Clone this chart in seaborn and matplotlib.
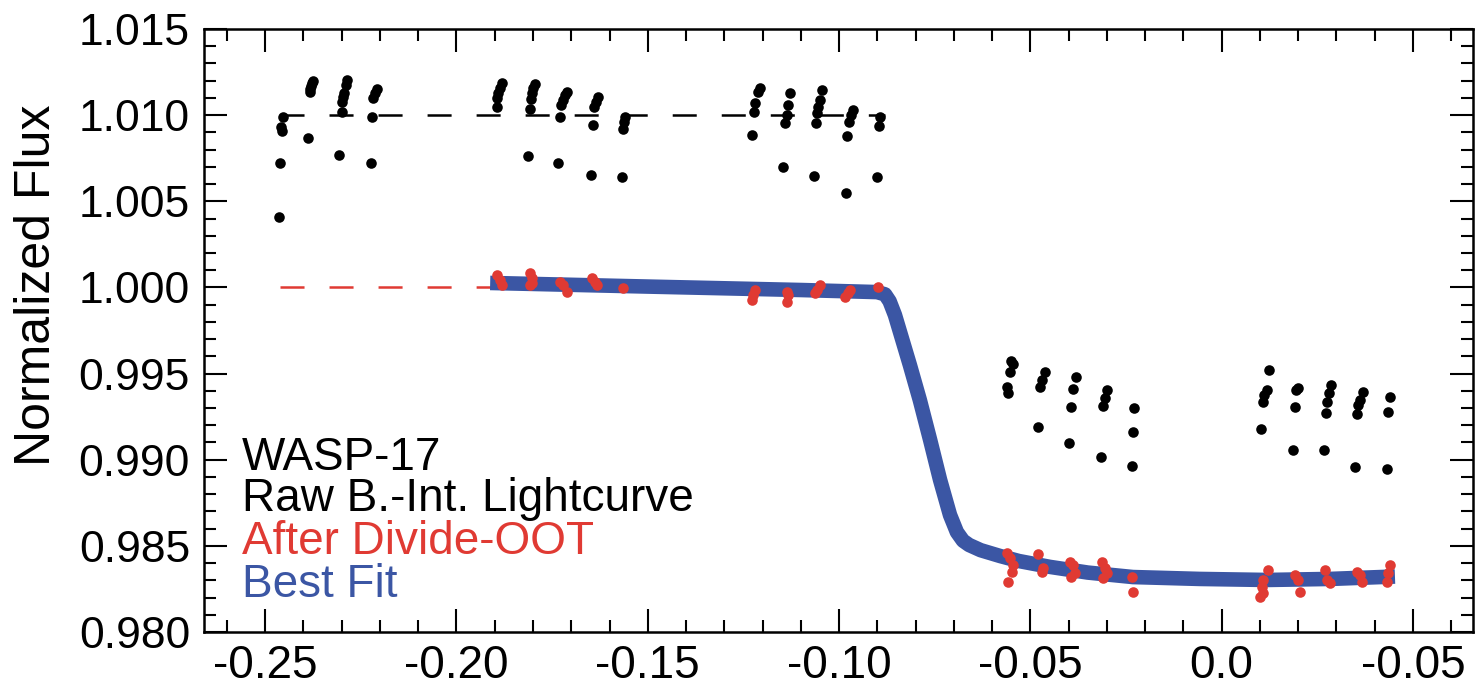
import numpy as np
import pandas as pd
import matplotlib
matplotlib.use("Agg")
import matplotlib.pyplot as plt
import seaborn as sns

# ---------------- data ----------------
raw_x = [
    -0.2453, -0.2458, -0.2456, -0.2461, -0.2463,
    -0.2375, -0.2377, -0.2380, -0.2382, -0.2382, -0.2388,
    -0.2286, -0.2288, -0.2294, -0.2296, -0.2299, -0.2299, -0.2307,
    -0.2207, -0.2213, -0.2218, -0.2220, -0.2223,
    -0.1881, -0.1886, -0.1891, -0.1894, -0.1894,
    -0.1794, -0.1800, -0.1802, -0.1805, -0.1808, -0.1813,
    -0.1711, -0.1716, -0.1721, -0.1727, -0.1729, -0.1734,
    -0.1630, -0.1635, -0.1640, -0.1643, -0.1648,
    -0.1559, -0.1562, -0.1564, -0.1567,
    -0.1207, -0.1212, -0.1220, -0.1222, -0.1227,
    -0.1128, -0.1133, -0.1136, -0.1141, -0.1146,
    -0.1045, -0.1050, -0.1055, -0.1058, -0.1061, -0.1065,
    -0.0963, -0.0969, -0.0974, -0.0979, -0.0982,
    -0.0893, -0.0896, -0.0901,
    -0.0551, -0.0545, -0.0553, -0.0561, -0.0558,
    -0.0462, -0.0470, -0.0475, -0.0480,
    -0.0381, -0.0389, -0.0394, -0.0399,
    -0.0300, -0.0305, -0.0310, -0.0315,
    -0.0229, -0.0232, -0.0234,
    0.0124, 0.0119, 0.0111, 0.0108, 0.0103,
    0.0199, 0.0194, 0.0192, 0.0186,
    0.0285, 0.0280, 0.0275, 0.0272, 0.0267,
    0.0369, 0.0361, 0.0356, 0.0353, 0.0348,
    0.0440, 0.0435, 0.0432,
]
raw_flux = [
    1.00989, 1.00931, 1.00908, 1.00722, 1.00409,
    1.01198, 1.01187, 1.01169, 1.01152, 1.01134, 1.00867,
    1.01204, 1.01175, 1.01129, 1.01105, 1.01076, 1.01018, 1.00769,
    1.01152, 1.01129, 1.01100, 1.00989, 1.00722,
    1.01187, 1.01158, 1.01129, 1.01100, 1.01047,
    1.01181, 1.01158, 1.01129, 1.01094, 1.01036, 1.00763,
    1.01134, 1.01117, 1.01088, 1.01059, 1.00989, 1.00722,
    1.01105, 1.01076, 1.01047, 1.00943, 1.00653,
    1.00989, 1.00960, 1.00920, 1.00641,
    1.01158, 1.01134, 1.01071, 1.01018, 1.00885,
    1.01129, 1.01059, 1.01001, 1.00954, 1.00699,
    1.01146, 1.01088, 1.01047, 1.01012, 1.00954, 1.00647,
    1.01030, 1.01001, 1.00960, 1.00879, 1.00548,
    1.00989, 1.00937, 1.00641,
    0.99573, 0.99556, 0.99509, 0.99422, 0.99387,
    0.99509, 0.99463, 0.99422, 0.99190,
    0.99480, 0.99411, 0.99306, 0.99097,
    0.99405, 0.99358, 0.99312, 0.99016,
    0.99300, 0.99161, 0.98964,
    0.99521, 0.99405, 0.99376, 0.99335, 0.99178,
    0.99416, 0.99405, 0.99306, 0.99057,
    0.99434, 0.99387, 0.99335, 0.99271, 0.99057,
    0.99393, 0.99347, 0.99318, 0.99265, 0.98958,
    0.99364, 0.99277, 0.98946,
]

oot_x = [
    -0.1894, -0.1886, -0.1881,
    -0.1808, -0.1802, -0.1802, -0.1808,
    -0.1729, -0.1721, -0.1711,
    -0.1646, -0.1638, -0.1632,
    -0.1564,
    -0.1220, -0.1225, -0.1227,
    -0.1136, -0.1133, -0.1136,
    -0.1050, -0.1058, -0.1063,
    -0.0971, -0.0977, -0.0984,
    -0.0898,
    -0.0561, -0.0553, -0.0545, -0.0548, -0.0558,
    -0.0480, -0.0467, -0.0470,
    -0.0396, -0.0389, -0.0383, -0.0394,
    -0.0313, -0.0305, -0.0300, -0.0310,
    -0.0234, -0.0232,
    0.0121, 0.0108, 0.0105, 0.0108, 0.0100,
    0.0192, 0.0199, 0.0205,
    0.0270, 0.0275, 0.0283,
    0.0353, 0.0361, 0.0366,
    0.0440, 0.0435, 0.0432,
]
oot_flux = [
    1.00072, 1.00043, 1.00014,
    1.00084, 1.00055, 1.00026, 1.00014,
    1.00032, 1.00014, 0.99974,
    1.00055, 1.00032, 1.00014,
    0.99997,
    0.99985, 0.99956, 0.99927,
    0.99974, 0.99956, 0.99916,
    1.00014, 0.99985, 0.99968,
    0.99985, 0.99968, 0.99944,
    1.00003,
    0.98459, 0.98430, 0.98389, 0.98348, 0.98290,
    0.98453, 0.98372, 0.98348,
    0.98406, 0.98389, 0.98343, 0.98319,
    0.98406, 0.98372, 0.98343, 0.98314,
    0.98319, 0.98232,
    0.98360, 0.98302, 0.98261, 0.98227, 0.98203,
    0.98331, 0.98302, 0.98232,
    0.98360, 0.98302, 0.98285,
    0.98348, 0.98331, 0.98290,
    0.98389, 0.98343, 0.98290,
]

fit_x = [-0.1912, -0.1500, -0.1100, -0.0901, -0.0880, -0.0868, -0.0854, -0.0815,
         -0.0789, -0.0762, -0.0736, -0.0710, -0.0692, -0.0676, -0.0660, -0.0630,
         -0.0579, -0.0530, -0.0449, -0.0350, -0.0232, -0.0057, 0.0118, 0.0283, 0.0453]
fit_flux = [1.00026, 1.00005, 0.99985, 0.99973, 0.99960, 0.99920, 0.99840, 0.99550,
            0.99347, 0.99115, 0.98883, 0.98679, 0.98580, 0.98530, 0.98505, 0.98475,
            0.98441, 0.98412, 0.98378, 0.98345, 0.98319, 0.98308, 0.98302, 0.98308, 0.98322]

raw_oot_level = 1.010
norm_level = 1.000
ref_x_start = -0.2461
raw_ref_x_end = -0.0880
norm_ref_x_end = -0.0901

x_tick_values = [-0.25, -0.20, -0.15, -0.10, -0.05, 0.0, 0.05]
x_tick_labels = ["-0.25", "-0.20", "-0.15", "-0.10", "-0.05", "0.0", "-0.05"]
y_tick_values = [0.980, 0.985, 0.990, 0.995, 1.000, 1.005, 1.010, 1.015]
y_tick_labels = ["0.980", "0.985", "0.990", "0.995", "1.000", "1.005", "1.010", "1.015"]

legend_lines = ["WASP-17", "Raw B.-Int. Lightcurve", "After Divide-OOT", "Best Fit"]

# ---------------- style ----------------
BLACK = "#000000"
RED = "#e03a33"
BLUE = "#3b56a4"

sns.set_theme(style="ticks")
plt.rcParams["font.family"] = ["Liberation Sans", "DejaVu Sans"]
plt.rcParams["lines.scale_dashes"] = False

fig = plt.figure(figsize=(14.75, 6.88), dpi=100)
ax = fig.add_axes([204 / 1475, 1 - 632 / 688, 1269 / 1475, 603 / 688])

raw_df = pd.DataFrame({"x": raw_x, "flux": raw_flux})
oot_df = pd.DataFrame({"x": oot_x, "flux": oot_flux})
fit_df = pd.DataFrame({"x": fit_x, "flux": fit_flux})

# reference dashed levels
ax.plot([ref_x_start, raw_ref_x_end], [raw_oot_level, raw_oot_level],
        color=BLACK, lw=1.8, dashes=(17.3, 18.0), zorder=2)
ax.plot([ref_x_start, norm_ref_x_end], [norm_level, norm_level],
        color=RED, lw=1.8, dashes=(17.3, 18.0), zorder=2)

sns.lineplot(data=fit_df, x="x", y="flux", sort=False, color=BLUE, lw=10.5,
             ax=ax, zorder=3, solid_capstyle="butt", solid_joinstyle="round")
sns.scatterplot(data=raw_df, x="x", y="flux", color=BLACK, s=58, linewidth=0,
                ax=ax, zorder=4)
sns.scatterplot(data=oot_df, x="x", y="flux", color=RED, s=58, linewidth=0,
                ax=ax, zorder=5)

ax.set_xlim(-0.266, 0.0657)
ax.set_ylim(0.980, 1.015)
ax.set_xticks(x_tick_values)
ax.set_xticklabels(x_tick_labels)
ax.set_yticks(y_tick_values)
ax.set_yticklabels(y_tick_labels)
ax.set_xticks(np.arange(-0.26, 0.066, 0.01), minor=True)
ax.set_yticks(np.arange(0.980, 1.0151, 0.001), minor=True)

ax.tick_params(which="both", direction="in", top=True, right=True,
               width=1.5, colors=BLACK)
ax.tick_params(which="major", length=16.5)
ax.tick_params(which="minor", length=8.6)
ax.tick_params(axis="x", which="major", labelsize=33, pad=9)
ax.tick_params(axis="y", which="major", labelsize=32, pad=10)
for sp in ax.spines.values():
    sp.set_visible(True)
    sp.set_linewidth(1.8)
    sp.set_color(BLACK)

ax.set_xlabel("")
ax.set_ylabel("Normalized Flux", fontsize=36, color=BLACK)
ax.yaxis.set_label_coords(-0.1135, 0.575)

colors = [BLACK, BLACK, RED, BLUE]
ys = [0.2687, 0.2007, 0.1294, 0.0580]
for txt, c, yy in zip(legend_lines, colors, ys):
    ax.text(0.030, yy, txt, color=c, fontsize=33, transform=ax.transAxes,
            ha="left", va="baseline", zorder=6)

fig.savefig("out.png", dpi=100)
